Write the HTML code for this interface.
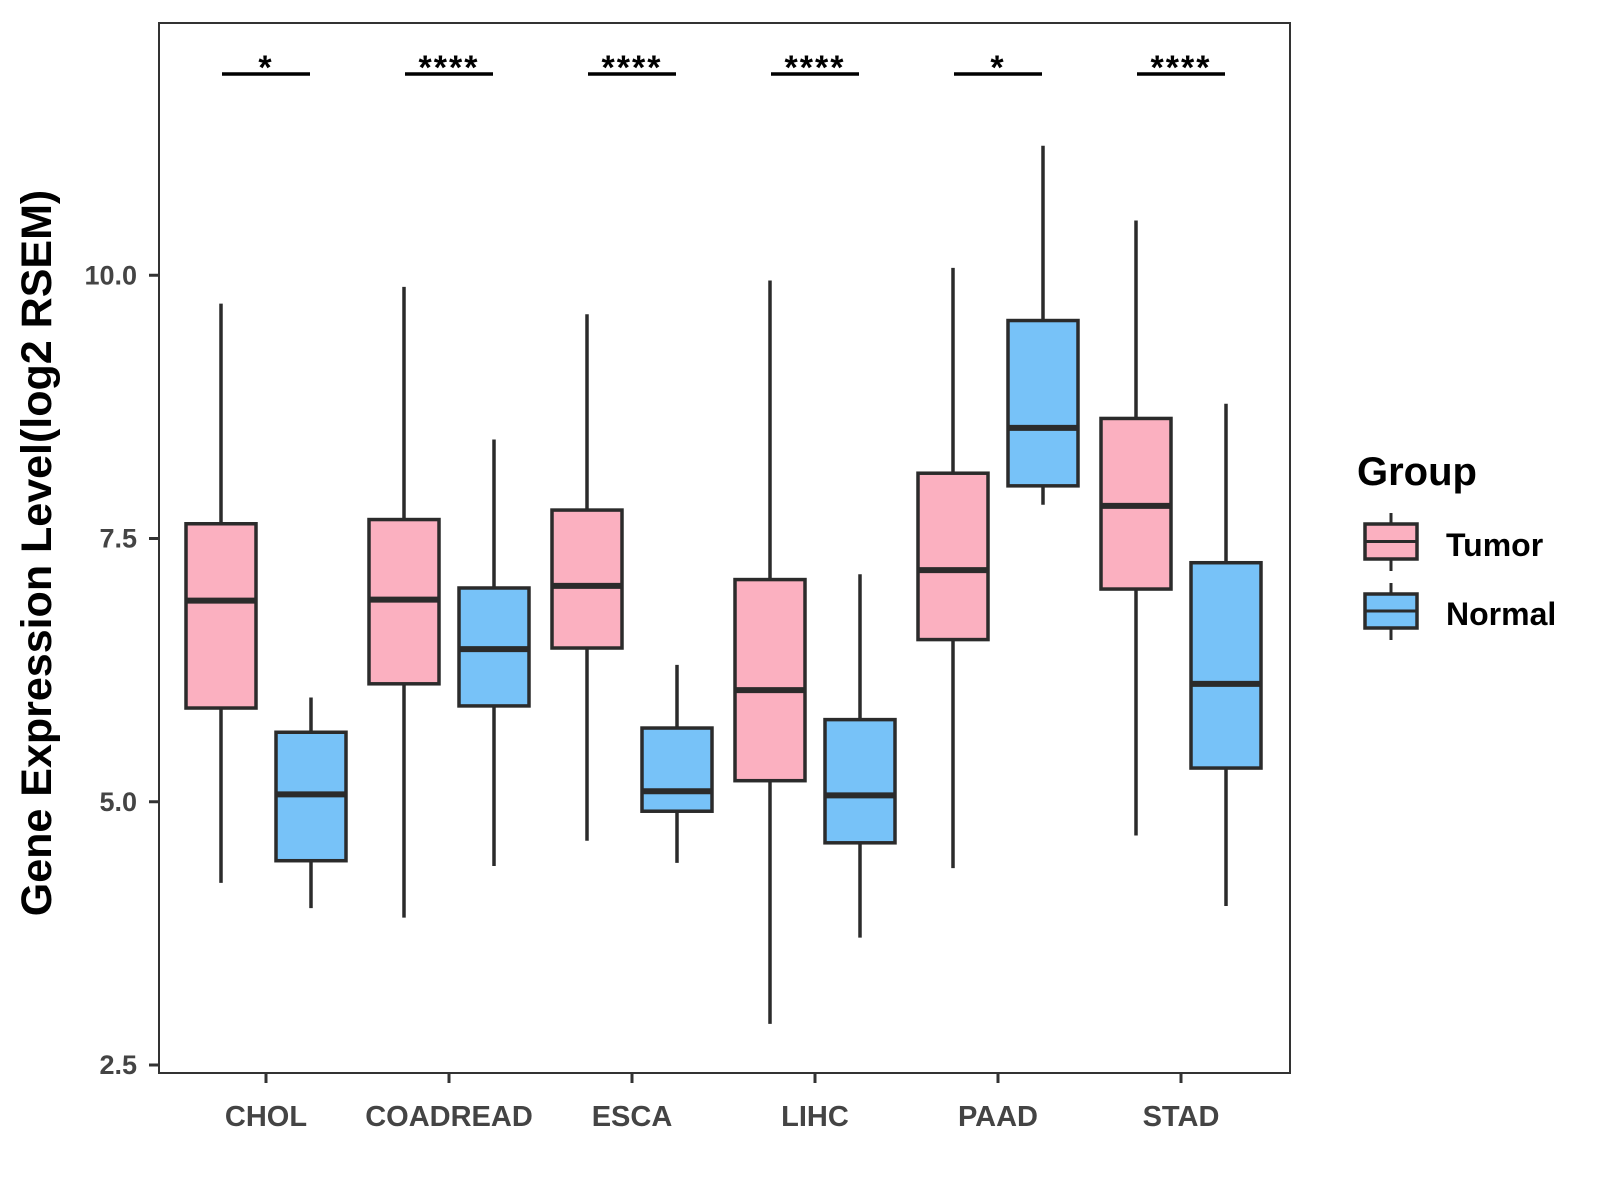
<!DOCTYPE html>
<html><head><meta charset="utf-8"><style>
body{margin:0;background:#fff}
svg{display:block;font-family:"Liberation Sans",Arial,sans-serif}
</style></head><body>
<svg id="chart" width="1600" height="1200" viewBox="0 0 1600 1200">
<rect x="0" y="0" width="1600" height="1200" fill="#fff"/>
<g id="marks"></g>
<rect x="159" y="23" width="1131" height="1050" fill="none" stroke="#333" stroke-width="2"/>
<g id="axes"></g>
<text x="51" y="553" transform="rotate(-90 51 553)" text-anchor="middle" font-size="43" font-weight="bold" fill="#000">Gene Expression Level(log2 RSEM)</text>
<g>
<text x="1357" y="485" font-size="40" font-weight="bold" fill="#000">Group</text>
<g>
<line x1="1398" y1="513" x2="1398" y2="571" stroke="#2b2b2b" stroke-width="3" transform="translate(-7,0)"/>
<rect x="1365" y="524" width="52" height="35" fill="#FBB0C0" stroke="#2b2b2b" stroke-width="3.5"/>
<line x1="1365" y1="541.5" x2="1417" y2="541.5" stroke="#2b2b2b" stroke-width="3"/>
<text x="1446" y="556" font-size="32" font-weight="bold" fill="#000">Tumor</text>
</g>
<g>
<line x1="1391" y1="583" x2="1391" y2="640" stroke="#2b2b2b" stroke-width="3"/>
<rect x="1365" y="594" width="52" height="34" fill="#77C2F8" stroke="#2b2b2b" stroke-width="3.5"/>
<line x1="1365" y1="611" x2="1417" y2="611" stroke="#2b2b2b" stroke-width="3"/>
<text x="1446" y="625" font-size="32" font-weight="bold" fill="#000">Normal</text>
</g>
</g>
</svg>
<script>
const categories=["CHOL","COADREAD","ESCA","LIHC","PAAD","STAD"];
const significance=["*","****","****","****","*","****"];
// [lowerWhisker, Q1, median, Q3, upperWhisker]
const tumorStats=[[4.23,5.89,6.91,7.64,9.73],[3.90,6.12,6.92,7.68,9.89],[4.63,6.46,7.05,7.77,9.63],[2.89,5.20,6.06,7.11,9.95],[4.37,6.54,7.20,8.12,10.07],[4.68,7.02,7.81,8.64,10.52]];
const normalStats=[[3.99,4.44,5.07,5.66,5.99],[4.39,5.91,6.45,7.03,8.44],[4.42,4.91,5.10,5.70,6.30],[3.71,4.61,5.06,5.78,7.16],[7.82,8.00,8.55,9.57,11.23],[4.01,5.32,6.12,7.27,8.78]];
const yTicks=[2.5,5.0,7.5,10.0];
const yTickLabels=["2.5","5.0","7.5","10.0"];

const NS="http://www.w3.org/2000/svg";
function yScale(v){return 1065-(v-2.5)*105.3;}
function xScale(i){return 266+i*183;}
function mk(tag,attrs,parent){const e=document.createElementNS(NS,tag);for(const k in attrs)e.setAttribute(k,attrs[k]);parent.appendChild(e);return e;}
const marks=document.getElementById('marks');
const axes=document.getElementById('axes');
const BW=70, OFF=45, STROKE="#2b2b2b";
function drawBox(s,cx,fill,name){
  const g=mk('g',{},marks);
  
  
  mk('line',{x1:cx,x2:cx,y1:yScale(s[4]),y2:yScale(s[0]),stroke:STROKE,'stroke-width':3.5},g);
  mk('rect',{x:cx-BW/2,y:yScale(s[3]),width:BW,height:yScale(s[1])-yScale(s[3]),fill:fill,stroke:STROKE,'stroke-width':3.5},g);
  mk('line',{x1:cx-BW/2,x2:cx+BW/2,y1:yScale(s[2]),y2:yScale(s[2]),stroke:STROKE,'stroke-width':6},g);
}
categories.forEach((c,i)=>{
  const cx=xScale(i);
  drawBox(tumorStats[i],cx-OFF,"#FBB0C0","box-tumor-"+c.toLowerCase());
  drawBox(normalStats[i],cx+OFF,"#77C2F8","box-normal-"+c.toLowerCase());
  const sg=mk('g',{},marks);
  
  
  mk('line',{x1:cx-44,x2:cx+44,y1:74,y2:74,stroke:"#000",'stroke-width':3.5},sg);
  const t=mk('text',{x:cx,y:79,'text-anchor':'middle','font-size':34,'font-weight':'bold','letter-spacing':2,fill:'#000'},sg);
  t.textContent=significance[i];
  const tk=mk('line',{x1:cx,x2:cx,y1:1073,y2:1083,stroke:'#333','stroke-width':3},axes);
  
  
  const lb=mk('text',{x:cx,y:1126,'text-anchor':'middle','font-size':29,'font-weight':'bold',fill:'#444'},axes);
  
  
  lb.textContent=c;
});
yTicks.forEach((v,i)=>{
  const y=yScale(v);
  const tk=mk('line',{x1:149,x2:159,y1:y,y2:y,stroke:'#333','stroke-width':3},axes);
  
  
  const lb=mk('text',{x:137,y:y+9,'text-anchor':'end','font-size':27,'font-weight':'bold',fill:'#444'},axes);
  
  
  lb.textContent=yTickLabels[i];
});
</script>
</body></html>
